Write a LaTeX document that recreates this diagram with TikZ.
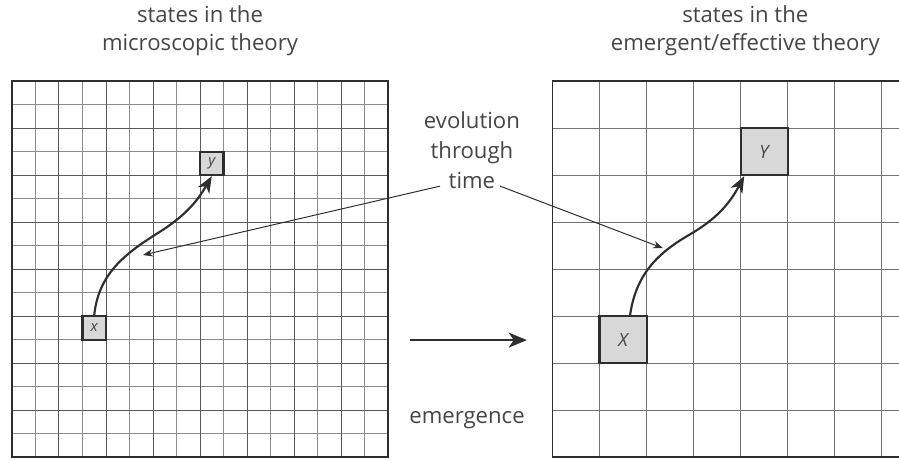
\documentclass[tikz,border=0pt]{standalone}
\usepackage{fontspec}
\setmainfont{Open Sans}
\usetikzlibrary{arrows.meta, positioning, calc}
\definecolor{textgray}{HTML}{454545}
\definecolor{boxgray}{HTML}{D8D8D8}
\definecolor{inkgray}{HTML}{2E2E2E}

\tikzset{
  caption/.style={font=\fontsize{13.4}{17}\selectfont, text=textgray, align=center},
  statebox/.style={draw=inkgray, line width=1.3pt, fill=boxgray, inner sep=0pt,
    font=\fontsize{9}{11}\selectfont\itshape, text=textgray},
  trajectory/.style={draw=inkgray, line width=1.3pt, -{Stealth[length=10pt,width=8pt,inset=3pt]}},
  pointer/.style={draw=inkgray, line width=0.6pt, -{Stealth[length=6pt,width=4.5pt]}}
}

\begin{document}
\begin{tikzpicture}[x=0.5cm, y=0.5cm]
      \useasboundingbox (-0.51,-0.04) rectangle (37.74,19.45);

      % fine grid: microscopic states
      \foreach \i in {1,3,...,15} {
        \draw[black!45, line width=0.45pt] (\i,0) -- (\i,16);
        \draw[black!45, line width=0.45pt] (0,\i) -- (16,\i);
      }
      \foreach \i in {2,4,...,14} {
        \draw[black!65, line width=0.6pt] (\i,0) -- (\i,16);
        \draw[black!65, line width=0.6pt] (0,\i) -- (16,\i);
      }
      \draw[inkgray, line width=1.1pt] (0,0) rectangle (16,16);

      % coarse grid: emergent states (runs off the right edge)
      \foreach \i in {25,27,...,37} {
        \draw[black!55, line width=0.5pt] (\i,0) -- (\i,16);
      }
      \foreach \i in {2,4,...,14} {
        \draw[black!55, line width=0.5pt] (23,\i) -- (39,\i);
      }
      \draw[inkgray, line width=1.1pt] (23,0) rectangle (39,16);

      % titles
      \node[caption] (microtitle) at (8,18.13) {states in the\\microscopic theory};
      \node[caption] (macrotitle) at (31.2,18.13) {states in the\\emergent/effective theory};

      % states
      \node[statebox, minimum size=0.5cm] (x) at (3.5,5.5) {x};
      \node[statebox, minimum size=0.5cm] (y) at (8.5,12.5) {y};
      \node[statebox, minimum size=1cm, font=\fontsize{11}{13}\selectfont\itshape] (X) at (26,5) {X};
      \node[statebox, minimum size=1cm, font=\fontsize{11}{13}\selectfont\itshape] (Y) at (32,13) {Y};

      % trajectories
      \coordinate (lmid) at (6.2,9.53);
      \coordinate (rmid) at (28.8,9.45);
      \draw[trajectory] (x.north) to[out=84,in=212] (lmid) to[out=32,in=240] (y.south);
      \draw[trajectory] ($(X.north)+(0.3,0)$) to[out=82,in=210] (rmid)
        to[out=30,in=242] ($(Y.south west)+(0.2,0)$);

      % label with pointers
      \node[caption, font=\fontsize{13.4}{18}\selectfont] (evo) at (19.57,13.06) {evolution\\through\\time};
      \coordinate (evoleft) at (18.21,11.53);
      \coordinate (evoright) at (20.77,11.53);
      \coordinate (tipleft) at (5.57,8.6);
      \coordinate (tipright) at (27.70,8.89);
      \draw[pointer] (evoleft) -- (tipleft);
      \draw[pointer] (evoright) -- (tipright);

      % emergence arrow
      \coordinate (emfrom) at (16.94,4.98);
      \coordinate (emto) at (21.91,4.98);
      \draw[inkgray, line width=1.5pt, -{Stealth[length=11pt,width=9pt,inset=3pt]}] (emfrom) -- (emto);
      \node[caption] (emlabel) at (19.36,1.57) {emergence};

    \end{tikzpicture}
\end{document}
